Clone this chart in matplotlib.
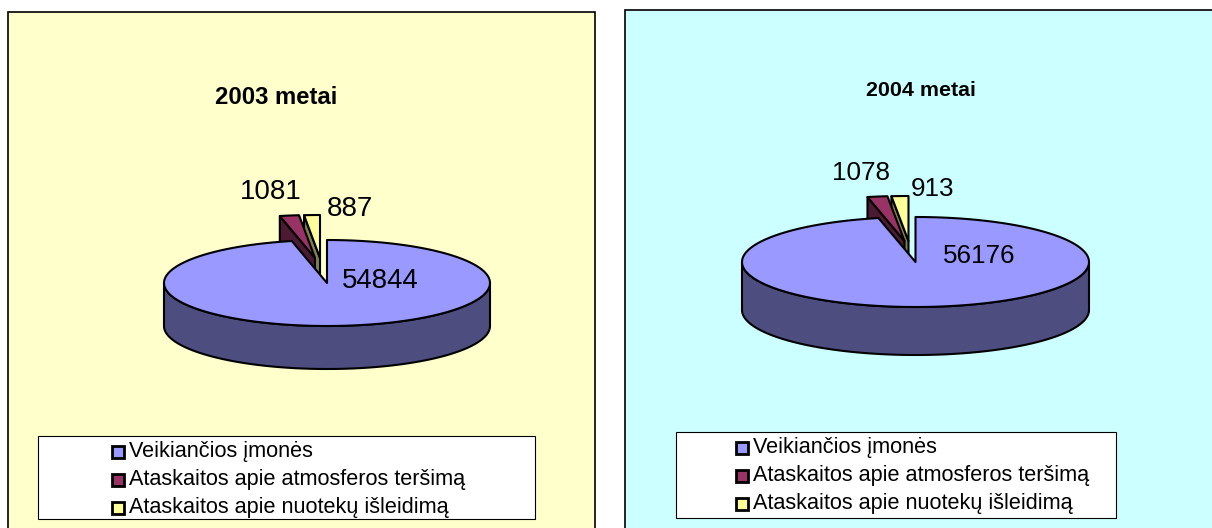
import numpy as np
import matplotlib
matplotlib.use('Agg')
import matplotlib.pyplot as plt
from matplotlib.patches import Rectangle, Polygon

plt.rcParams['font.family'] = ['Liberation Sans', 'DejaVu Sans']

# chart data
titles = ['2003 metai', '2004 metai']
categories = ['Veikiančios įmonės', 'Ataskaitos apie atmosferos teršimą', 'Ataskaitos apie nuotekų išleidimą']
values_2003 = [54844, 1081, 887]
values_2004 = [56176, 1078, 913]

# colours
top_colors = ['#9999FF', '#993366', '#FFFF99']
side_colors = ['#4D4D80', '#4D1A33', '#80804D']

# layout of the two panels, in pixels
panel_2003 = dict(bg='#FFFFCC', box=(8, 12, 587, 530), center=(327, 283), rx=163, ry=43, depth=43,
                  shift=[(0, 0), (-12, -25), (-7, -25)],
                  label_pos=[(380, 281), (271, 192), (350, 209)], label_size=19.9,
                  title_pos=(276, 98), title_size=17.2,
                  legend=(38, 436, 497, 83), legend_y=[452, 480, 508], marker_x=112, text_x=129)
panel_2004 = dict(bg='#CCFFFF', box=(625, 10, 600, 530), center=(915.5, 262), rx=173.5, ry=45, depth=48,
                  shift=[(0, 0), (-11, -21), (-7, -21)],
                  label_pos=[(979, 256), (861, 173), (933, 189)], label_size=18.7,
                  title_pos=(921, 90), title_size=15.4,
                  legend=(676, 432, 440, 86), legend_y=[448, 476, 504], marker_x=736, text_x=753)


def arc(cx, cy, rx, ry, a0, a1):
    # angles in degrees, clockwise from 12 o'clock
    t = np.radians(np.linspace(a0, a1, 200))
    return np.column_stack([cx + rx * np.sin(t), cy - ry * np.cos(t)])


def draw_panel(ax, values, title, p):
    x, y, w, h = p['box']
    ax.add_patch(Rectangle((x, y), w, h, facecolor=p['bg'], edgecolor='black', lw=1.2))

    total = sum(values)
    stops = np.cumsum([0] + values) / total * 360
    lw = 1.5
    cx, cy = p['center']
    rx, ry, depth = p['rx'], p['ry'], p['depth']

    # exploded slices, back to front, then the big slice over them
    for i in [2, 1, 0]:
        a0, a1 = stops[i], stops[i + 1]
        sx, sy = p['shift'][i]
        ox, oy = cx + sx, cy + sy
        rim = arc(ox, oy, rx, ry, a0, a1)
        if i == 0:
            # outer wall, lower half of the ellipse
            front = arc(ox, oy, rx, ry, 90, 270)
            wall = np.vstack([front, (front + [0, depth])[::-1]])
            ax.add_patch(Polygon(wall, closed=True, facecolor=side_colors[i], edgecolor='black', lw=lw, joinstyle='round'))
        else:
            # cut face on the left of the slice
            face = [rim[0], (ox, oy), (ox, oy + depth), rim[0] + [0, depth]]
            ax.add_patch(Polygon(face, closed=True, facecolor=side_colors[i], edgecolor='black', lw=lw, joinstyle='round'))
        top = np.vstack([[(ox, oy)], rim])
        ax.add_patch(Polygon(top, closed=True, facecolor=top_colors[i], edgecolor='black', lw=lw, joinstyle='round'))

    for value, (lx, ly) in zip(values, p['label_pos']):
        ax.text(lx, ly, str(value), ha='center', va='center', fontsize=p['label_size'], color='black')

    ax.text(p['title_pos'][0], p['title_pos'][1], title, ha='center', va='center',
            fontsize=p['title_size'], fontweight='bold', color='black')

    # legend
    lx, ly, lw_box, lh_box = p['legend']
    ax.add_patch(Rectangle((lx + 1, ly + 1), lw_box, lh_box, facecolor='#808080', edgecolor='none'))
    ax.add_patch(Rectangle((lx, ly), lw_box, lh_box, facecolor='white', edgecolor='black', lw=0.8))
    for name, color, row_y in zip(categories, top_colors, p['legend_y']):
        ax.add_patch(Rectangle((p['marker_x'], row_y - 6), 12, 12, facecolor=color, edgecolor='black', lw=2))
        ax.text(p['text_x'], row_y, name, ha='left', va='center', fontsize=15.6, color='black')


fig = plt.figure(figsize=(12.12, 5.28), dpi=100)
ax = fig.add_axes([0, 0, 1, 1])
ax.set_xlim(0, 1212)
ax.set_ylim(528, 0)
ax.axis('off')

draw_panel(ax, values_2003, titles[0], panel_2003)
draw_panel(ax, values_2004, titles[1], panel_2004)

fig.savefig('out.png', dpi=100, facecolor='white')
